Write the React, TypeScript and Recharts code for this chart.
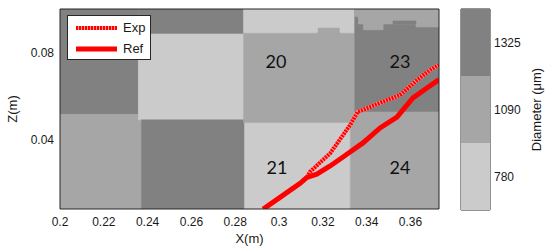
import {
  ComposedChart,
  BarChart,
  Bar,
  Line,
  XAxis,
  YAxis,
  ReferenceArea,
  ReferenceDot,
  Legend,
} from "recharts";

const xTicks = [0.2, 0.22, 0.24, 0.26, 0.28, 0.3, 0.32, 0.34, 0.36];
const zTicks = [0.04, 0.08];
const xDomain = [0.2, 0.373];
const zDomain = [0.008, 0.1];

// diameter classes of the colour bar (µm), lightest first
const diameterClasses = ["780", "1090", "1325"];

// grain map patches: x from, x to, z from, z to, class index
const patches = [
  [0.2, 0.2358, 0.0515, 0.1, 2],
  [0.2, 0.2372, 0.008, 0.0515, 1],
  [0.2358, 0.2838, 0.0885, 0.1, 2],
  [0.2358, 0.2838, 0.049, 0.0885, 0],
  [0.2372, 0.2843, 0.008, 0.049, 2],
  [0.2838, 0.3345, 0.0888, 0.1, 0],
  [0.2838, 0.3345, 0.0476, 0.0888, 1],
  [0.3178, 0.3275, 0.0885, 0.0912, 1],
  [0.2843, 0.3325, 0.008, 0.0476, 0],
  [0.3345, 0.373, 0.0526, 0.1, 2],
  [0.3362, 0.373, 0.0931, 0.1, 1],
  [0.3345, 0.3362, 0.0965, 0.1, 1],
  [0.3385, 0.3475, 0.0904, 0.0931, 1],
  [0.3625, 0.373, 0.0917, 0.0931, 1],
  [0.352, 0.3625, 0.0931, 0.0945, 2],
  [0.3325, 0.373, 0.008, 0.0526, 1],
];

// cell numbers
const cellIds = ["20", "21", "23", "24"];
const cellX = [0.2986, 0.299, 0.3552, 0.3552];
const cellZ = [0.0756, 0.0269, 0.0756, 0.0269];

// measured (Exp) and reference (Ref) trajectories
const expX = [0.2928, 0.3019, 0.3096, 0.3127, 0.3141, 0.3233, 0.3278, 0.3324, 0.336, 0.3401, 0.3474, 0.3552, 0.363, 0.3689, 0.373];
const expZ = [0.008, 0.0144, 0.0198, 0.0225, 0.0251, 0.0336, 0.04, 0.0466, 0.0528, 0.0543, 0.0574, 0.0604, 0.0673, 0.0719, 0.0743];
const refX = [0.2928, 0.3019, 0.3096, 0.3127, 0.3172, 0.3233, 0.3292, 0.3324, 0.3383, 0.3461, 0.3538, 0.3611, 0.3675, 0.373];
const refZ = [0.008, 0.0144, 0.0198, 0.0225, 0.024, 0.0278, 0.0319, 0.0342, 0.0384, 0.0453, 0.0503, 0.0591, 0.0637, 0.0675];

const LEVEL_FILLS = ["#cbcbcb", "#a6a6a6", "#818181"];
const AXIS = "#262626";
const RED = "#ff0000";
const FONT = "'Liberation Sans', Arial, sans-serif";
const tickStyle = { fontFamily: FONT, fontSize: 12, fill: "#1a1a1a" };

function vLabel(dx: number) {
  return (props: any) => {
    const vb = props.viewBox || {};
    const cx = vb.x + dx;
    const cy = vb.y + vb.height / 2;
    return (
      <text
        x={cx}
        y={cy}
        transform={`rotate(-90 ${cx} ${cy})`}
        textAnchor="middle"
        dominantBaseline="central"
        fontFamily={FONT}
        fontSize={13}
        fill="#1a1a1a"
      >
        {props.value}
      </text>
    );
  };
}

function LegendBox({ payload }: any) {
  const items = (payload || []).filter((p: any) => p.type !== "none");
  return (
    <div
      style={{
        position: "relative",
        width: 84,
        height: 45,
        border: `1px solid ${AXIS}`,
        background: "#fff",
        boxSizing: "border-box",
        fontFamily: FONT,
        fontSize: 13,
        color: "#1a1a1a",
      }}
    >
      {items.map((entry: any, i: number) => (
        <div key={entry.value} style={{ position: "absolute", left: 0, top: 3 + i * 21, height: 18, width: 82 }}>
          <svg width={52} height={18} style={{ position: "absolute", left: 0, top: 0 }}>
            {entry.value === "Exp" ? (
              <>
                <line x1={8} x2={49} y1={9} y2={9} stroke="#ff9a9a" strokeWidth={4} />
                <line x1={8} x2={49} y1={9} y2={9} stroke={RED} strokeWidth={4} strokeDasharray="2 1" />
              </>
            ) : (
              <line x1={8} x2={49} y1={9} y2={9} stroke={RED} strokeWidth={5} />
            )}
          </svg>
          <span style={{ position: "absolute", left: 55, top: 0, lineHeight: "18px" }}>{entry.value}</span>
        </div>
      ))}
    </div>
  );
}

export default function App() {
  const expData = expX.map((x, i) => ({ x, z: expZ[i] }));
  const refData = refX.map((x, i) => ({ x, z: refZ[i] }));
  const colorbarRow: any = { k: "cb" };
  diameterClasses.forEach((_, i) => {
    colorbarRow[`c${i}`] = 1;
  });
  const classTicks = diameterClasses.map((_, i) => i + 0.5);

  return (
    <div style={{ position: "absolute", left: 0, top: 0, width: 550, height: 252, background: "#fff" }}>
      <div style={{ position: "absolute", left: 0, top: 0 }}>
        <ComposedChart width={550} height={252} margin={{ top: 9, right: 111, bottom: 9, left: 0 }}>
          {patches.map(([x1, x2, z1, z2, lvl], i) => (
            <ReferenceArea
              key={i}
              x1={x1}
              x2={x2}
              y1={z1}
              y2={z2}
              fill={LEVEL_FILLS[lvl]}
              fillOpacity={1}
              stroke={LEVEL_FILLS[lvl]}
              strokeWidth={0.6}
              ifOverflow="hidden"
            />
          ))}
          <Line
            data={expData}
            dataKey="z"
            type="linear"
            stroke="#ff9a9a"
            strokeWidth={4}
            dot={false}
            activeDot={false}
            legendType="none"
            isAnimationActive={false}
          />
          <Line
            data={expData}
            dataKey="z"
            name="Exp"
            type="linear"
            stroke={RED}
            strokeWidth={4}
            strokeDasharray="2 1"
            dot={false}
            activeDot={false}
            isAnimationActive={false}
          />
          <Line
            data={refData}
            dataKey="z"
            name="Ref"
            type="linear"
            stroke={RED}
            strokeWidth={5}
            dot={false}
            activeDot={false}
            isAnimationActive={false}
          />
          {cellIds.map((id, i) => (
            <ReferenceDot
              key={id}
              x={cellX[i]}
              y={cellZ[i]}
              r={0}
              fill="none"
              stroke="none"
              label={{ value: id, position: "center", fontSize: 18, fill: "#111", fontFamily: "Lato, sans-serif" }}
            />
          ))}
          <XAxis
            type="number"
            dataKey="x"
            domain={xDomain}
            ticks={xTicks}
            interval={0}
            allowDataOverflow
            height={34}
            tickLine={false}
            axisLine={{ stroke: AXIS }}
            tick={tickStyle}
            label={{ value: "X(m)", position: "insideBottom", offset: 0, fontFamily: FONT, fontSize: 13, fill: "#1a1a1a" }}
          />
          <XAxis
            xAxisId="bt"
            type="number"
            dataKey="x"
            domain={xDomain}
            ticks={xTicks}
            interval={0}
            allowDataOverflow
            orientation="bottom"
            mirror
            tick={false}
            tickSize={4}
            tickLine={{ stroke: AXIS }}
            axisLine={false}
          />
          <XAxis
            xAxisId="t"
            type="number"
            dataKey="x"
            domain={xDomain}
            ticks={xTicks}
            interval={0}
            allowDataOverflow
            orientation="top"
            mirror
            tick={false}
            tickSize={4}
            tickLine={{ stroke: AXIS }}
            axisLine={{ stroke: AXIS }}
          />
          <YAxis
            type="number"
            domain={zDomain}
            ticks={zTicks}
            interval={0}
            allowDataOverflow
            width={60}
            tickLine={false}
            tickSize={4}
            tickMargin={2}
            axisLine={{ stroke: AXIS }}
            tick={tickStyle}
            label={{ value: "Z(m)", content: vLabel(12) }}
          />
          <YAxis
            yAxisId="lt"
            type="number"
            domain={zDomain}
            ticks={zTicks}
            interval={0}
            allowDataOverflow
            mirror
            tick={false}
            tickSize={4}
            tickLine={{ stroke: AXIS }}
            axisLine={false}
          />
          <YAxis
            yAxisId="r"
            type="number"
            domain={zDomain}
            ticks={zTicks}
            interval={0}
            allowDataOverflow
            orientation="right"
            mirror
            tick={false}
            tickSize={4}
            tickLine={{ stroke: AXIS }}
            axisLine={{ stroke: AXIS }}
          />
          <Legend
            layout="vertical"
            align="center"
            verticalAlign="middle"
            wrapperStyle={{ left: 67, top: 15, width: 84, height: 45 }}
            content={<LegendBox />}
          />
        </ComposedChart>
      </div>

      <div style={{ position: "absolute", left: 0, top: 0 }}>
        <BarChart
          width={550}
          height={252}
          data={[colorbarRow]}
          margin={{ top: 9, right: 0, bottom: 42, left: 461 }}
          barCategoryGap={0}
          barGap={0}
        >
          <XAxis dataKey="k" hide />
          {diameterClasses.map((d, i) => (
            <Bar key={d} dataKey={`c${i}`} stackId="cb" fill={LEVEL_FILLS[i]} isAnimationActive={false} />
          ))}
          <ReferenceArea y1={0} y2={3} fill="none" stroke={AXIS} strokeWidth={1} ifOverflow="visible" />
          <YAxis
            orientation="right"
            type="number"
            domain={[0, 3]}
            ticks={classTicks}
            interval={0}
            width={60}
            tickLine={false}
            tickSize={2}
            tickMargin={2}
            axisLine={false}
            tick={tickStyle}
            tickFormatter={(v: number) => diameterClasses[Math.floor(v)]}
            label={{ value: "Diameter (\u03bcm)", content: vLabel(46) }}
          />
          <YAxis
            yAxisId="cr"
            orientation="right"
            type="number"
            domain={[0, 3]}
            ticks={classTicks}
            interval={0}
            mirror
            tick={false}
            tickSize={3}
            tickLine={{ stroke: AXIS }}
            axisLine={false}
          />
          <YAxis
            yAxisId="cl"
            orientation="left"
            type="number"
            domain={[0, 3]}
            ticks={classTicks}
            interval={0}
            mirror
            tick={false}
            tickSize={3}
            tickLine={{ stroke: AXIS }}
            axisLine={false}
          />
        </BarChart>
      </div>
    </div>
  );
}
